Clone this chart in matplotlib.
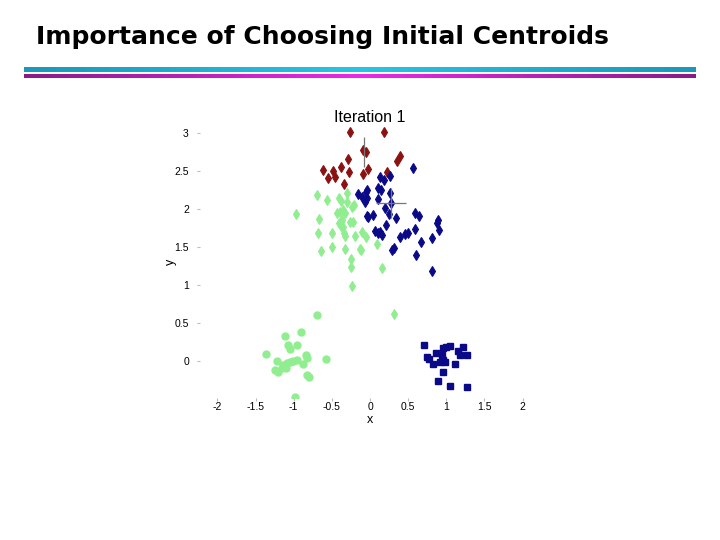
import numpy as np
import matplotlib
matplotlib.use('Agg')
import matplotlib.pyplot as plt
from matplotlib.colors import LinearSegmentedColormap

# ==========================================
# data (x, y)
# ==========================================
red_x = [-0.26, -0.05, -0.09, -0.29, -0.62, -0.48, -0.38, -0.28, -0.09, -0.55,
         -0.46, -0.34, -0.03, 0.18, 0.35, 0.39, 0.22]
red_y = [3.01, 2.75, 2.78, 2.66, 2.51, 2.50, 2.55, 2.49, 2.46, 2.41,
         2.42, 2.33, 2.53, 3.01, 2.63, 2.70, 2.49]

blue_x = [0.56, 0.13, 0.18, 0.26, 0.11, 0.14, 0.26, 0.10, -0.04, -0.04,
          -0.07, 0.28, 0.20, 0.25, 0.34, -0.03, 0.04, 0.59, 0.64, 0.89,
          0.88, 0.21, 0.07, 0.13, 0.16, 0.10, 0.39, 0.46, 0.50, 0.59,
          0.90, 0.67, 0.81, 0.29, 0.31, 0.60, 0.81, -0.16, -0.10, -0.05, -0.04]
blue_y = [2.54, 2.42, 2.38, 2.43, 2.28, 2.25, 2.21, 2.13, 2.25, 2.14,
          2.09, 2.08, 2.01, 1.93, 1.88, 1.89, 1.92, 1.95, 1.91, 1.86,
          1.82, 1.79, 1.71, 1.70, 1.66, 1.68, 1.63, 1.67, 1.68, 1.74,
          1.72, 1.57, 1.62, 1.46, 1.49, 1.39, 1.18, 2.20, 2.16, 2.22, 1.91]

green_x = [-0.69, -0.56, -0.41, -0.38, -0.30, -0.30, -0.24, -0.21, -0.97, -0.67,
           -0.43, -0.39, -0.35, -0.33, -0.37, -0.41, -0.26, -0.22, -0.35, -0.38,
           -0.68, -0.50, -0.34, -0.33, -0.20, -0.10, -0.05, -0.64, -0.50, -0.33,
           -0.13, -0.25, -0.25, -0.24, 0.09, -0.12, 0.16, 0.31]
green_y = [2.18, 2.12, 2.14, 2.11, 2.21, 2.09, 2.03, 2.05, 1.93, 1.87,
           1.95, 1.96, 1.99, 1.95, 1.86, 1.82, 1.83, 1.83, 1.76, 1.78,
           1.68, 1.68, 1.68, 1.64, 1.64, 1.70, 1.63, 1.45, 1.50, 1.47,
           1.47, 1.34, 1.24, 0.99, 1.54, 1.46, 1.22, 0.62]

circ_x = [-0.69, -1.11, -0.90, -1.07, -1.05, -0.96, -1.36, -1.22, -0.84, -0.83,
          -0.58, -1.25, -1.21, -1.15, -1.14, -1.09, -1.05, -1.01, -0.96, -0.88,
          -0.83, -0.80, -0.98, -1.10]
circ_y = [0.61, 0.33, 0.38, 0.21, 0.16, 0.21, 0.09, 0.00, 0.08, 0.04,
          0.03, -0.12, -0.14, -0.09, -0.05, -0.03, -0.01, 0.00, 0.01, -0.04,
          -0.18, -0.21, -0.47, -0.09]

sq_x = [0.71, 0.87, 0.96, 1.00, 1.05, 1.15, 1.22, 1.18, 1.27, 0.75,
        0.77, 0.94, 0.96, 0.92, 0.98, 0.83, 1.11, 0.96, 0.89, 1.05, 1.27]
sq_y = [0.21, 0.11, 0.17, 0.18, 0.20, 0.13, 0.18, 0.08, 0.08, 0.05,
        0.03, 0.08, 0.01, -0.01, -0.01, -0.04, -0.04, -0.14, -0.26, -0.33, -0.34]

# centroids (red, blue)
cent_x = [-0.08, 0.28]
cent_y = [2.75, 2.08]

x_ticks = [-2, -1.5, -1, -0.5, 0, 0.5, 1, 1.5, 2]
y_ticks = [0, 0.5, 1, 1.5, 2, 2.5, 3]

RED = '#8b1212'
BLUE = '#0a0a88'
GREEN = '#90ee90'

fig = plt.figure(figsize=(7.2, 5.4), dpi=100)

# --- slide header ---
fig.text(36 / 720, 1 - 37 / 540, 'Importance of Choosing Initial Centroids',
         fontsize=18, fontweight='bold', family='DejaVu Sans', va='center', ha='left')

bg = fig.add_axes([0, 0, 1, 1], zorder=-1)
bg.set_xlim(0, 720)
bg.set_ylim(540, 0)
bg.axis('off')
grad = np.abs(np.linspace(-1, 1, 300))[None, :]
cyan = LinearSegmentedColormap.from_list('c', ['#28c4e4', '#1a98b8'])
mag = LinearSegmentedColormap.from_list('m', ['#e82ae8', '#8a1a8a'])
bg.imshow(grad, cmap=cyan, extent=(24, 696, 72, 67), aspect='auto')
bg.imshow(grad, cmap=mag, extent=(24, 696, 78, 74), aspect='auto')

# --- scatter plot ---
ax = fig.add_axes([200 / 720, 1 - 398 / 540, 340 / 720, 273 / 540])
ax.plot(green_x, green_y, 'd', color=GREEN, ms=4.8, mec=GREEN, mew=0.8)
ax.plot(circ_x, circ_y, 'o', color=GREEN, ms=5, mec=GREEN)
ax.plot(red_x, red_y, 'd', color=RED, ms=4.8, mec=RED, mew=0.8)
ax.plot(blue_x, blue_y, 'd', color=BLUE, ms=4.8, mec=BLUE, mew=0.8)
ax.plot(sq_x, sq_y, 's', color=BLUE, ms=4, mec=BLUE)
ax.plot(cent_x[:1], cent_y[:1], '|', color='#777777', ms=21, mew=0.9)
ax.plot(cent_x[1:], cent_y[1:], '+', color='#777777', ms=21, mew=0.9)

ax.set_xlim(-2.228, 2.228)
ax.set_ylim(-0.487, 3.105)
ax.set_xticks(x_ticks)
ax.set_xticklabels([f'{t:g}' for t in x_ticks])
ax.set_yticks(y_ticks)
ax.set_yticklabels([f'{t:g}' for t in y_ticks])
for s in ax.spines.values():
    s.set_visible(False)
ax.tick_params(labelsize=7.5, length=2, color='#bbbbbb', pad=1)
ax.tick_params(axis='y', pad=6)
for lab in ax.get_xticklabels() + ax.get_yticklabels():
    lab.set_family('Liberation Sans')
ax.set_xlabel('x', fontsize=9, family='Liberation Sans', labelpad=1)
ax.set_ylabel('y', fontsize=9, family='Liberation Sans', labelpad=-2)
ax.set_title('Iteration 1', fontsize=11.5, family='Liberation Sans', pad=1)

plt.savefig('out.png', dpi=100)
